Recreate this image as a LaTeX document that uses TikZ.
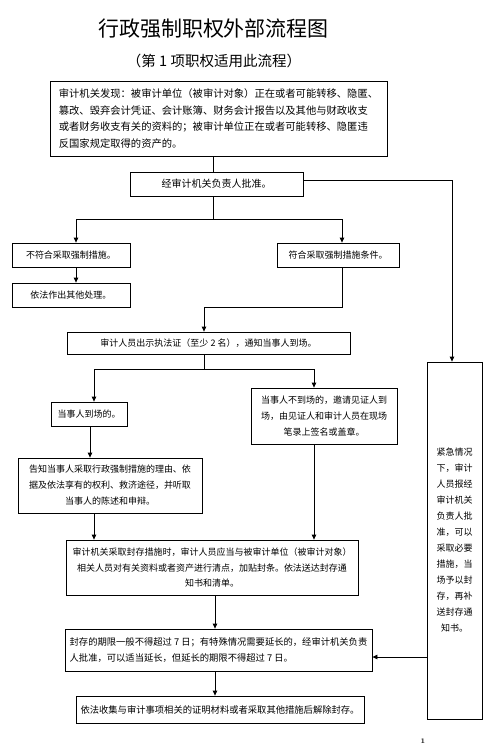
\documentclass[tikz,border=0pt]{standalone}
\usepackage{fontspec}
\newfontfamily\cjk{Noto Sans CJK SC}
\usetikzlibrary{arrows.meta,calc}
\begin{document}
\begin{tikzpicture}[x=1pt,y=-1pt,
  box/.style={draw, line width=0.8pt, fill=white, inner sep=0pt, align=center, font=\cjk\fontsize{9}{16}\selectfont},
  ln/.style={line width=0.8pt},
  arr/.style={line width=0.8pt, -{Triangle[length=5pt,width=4.5pt]}}]
\useasboundingbox[fill=white] (0,0) rectangle (495,753);

\node[font=\cjk\fontsize{21}{25}\selectfont, inner sep=0pt] (title) at (213.5,29) {行政强制职权外部流程图};
\node[font=\cjk\fontsize{14.5}{18}\selectfont, inner sep=0pt] (sub) at (214,61) {（第 1 项职权适用此流程）};

\node[box, minimum width=337pt, minimum height=75pt, align=left, font=\cjk\fontsize{10.3}{16.5}\selectfont] (b1) at (218.5,118.5)
 {审计机关发现：被审计单位（被审计对象）正在或者可能转移、隐匿、\\篡改、毁弃会计凭证、会计账簿、财务会计报告以及其他与财政收支\\或者财务收支有关的资料的；被审计单位正在或者可能转移、隐匿违\\反国家规定取得的资产的。};

\node[box, minimum width=173pt, minimum height=24pt, font=\cjk\fontsize{10}{16}\selectfont] (b2) at (216.5,184) {经审计机关负责人批准。};
\node[box, minimum width=118pt, minimum height=24pt] (b3) at (71,255) {不符合采取强制措施。};
\node[box, minimum width=118pt, minimum height=24pt] (b5) at (71,295) {依法作出其他处理。};
\node[box, minimum width=122pt, minimum height=24pt] (b4) at (338,255) {符合采取强制措施条件。};
\node[box, minimum width=283pt, minimum height=22pt] (b6) at (208.5,343) {审计人员出示执法证（至少 2 名），通知当事人到场。};
\node[box, minimum width=76pt, minimum height=24pt] (b7) at (89,414) {当事人到场的。};
\node[box, minimum width=146pt, minimum height=56pt] (b8) at (324,416) {当事人不到场的，邀请见证人到\\场，由见证人和审计人员在现场\\笔录上签名或盖章。};
\node[box, minimum width=184pt, minimum height=55pt] (b9) at (110,485.5) {告知当事人采取行政强制措施的理由、依\\据及依法享有的权利、救济途径，并听取\\当事人的陈述和申辩。};
\node[box, minimum width=292pt, minimum height=55pt, font=\cjk\fontsize{9}{15.5}\selectfont] (b10) at (212,567.5) {审计机关采取封存措施时，审计人员应当与被审计单位（被审计对象）\\相关人员对有关资料或者资产进行清点，加贴封条。依法送达封存通\\知书和清单。};
\node[box, minimum width=307pt, minimum height=42pt, align=left, font=\cjk\fontsize{9.3}{16}\selectfont] (b11) at (218.5,650) {封存的期限一般不得超过 7 日；有特殊情况需要延长的，经审计机关负责\\人批准，可以适当延长，但延长的期限不得超过 7 日。};
\node[box, minimum width=288pt, minimum height=27pt, font=\cjk\fontsize{9.3}{16}\selectfont] (b12) at (220,709.5) {依法收集与审计事项相关的证明材料或者采取其他措施后解除封存。};
\node[box, minimum width=55pt, minimum height=357pt] (em) at (454.5,540.5) {紧急情况\\下，审计\\人员报经\\审计机关\\负责人批\\准，可以\\采取必要\\措施，当\\场予以封\\存，再补\\送封存通\\知书。};

\node[font=\bfseries\fontsize{7}{8}\selectfont, inner sep=0pt] (pg) at (423,741) {1};

% connectors
\draw[ln] ([xshift=-5.5pt]b1.south) -- ([xshift=-3.5pt]b2.north);
\draw[arr] ([yshift=4pt]b2.east) -| ([xshift=-2.5pt]em.north);
\draw[ln] ([xshift=-3.5pt]b2.south) -- ++(0,23) coordinate (j1);
\draw[arr] (j1) -| ([xshift=5pt]b3.north);
\draw[arr] (j1) -| ([xshift=4pt]b4.north);
\draw[arr] ([xshift=5pt]b3.south) -- ([xshift=5pt]b5.north);
\draw[arr] ([xshift=4pt]b4.south) -- ++(0,40) -| ([xshift=-4.5pt]b6.north);
\draw[ln] ([xshift=-4.5pt]b6.south) -- ++(0,15) coordinate (j3);
\draw[arr] (j3) -| ([xshift=5pt]b7.north);
\draw[arr] (j3) -| ([xshift=-10pt]b8.north);
\draw[arr] ([xshift=1pt]b7.south) -- ([xshift=1pt]b7.south |- b9.north);
\draw[arr] ([xshift=-16pt]b9.south) -- ([xshift=-16pt]b9.south |- b10.north);
\draw[arr] ([xshift=-10pt]b8.south) -- ([xshift=-10pt]b8.south |- b10.north);
\draw[arr] ([xshift=3pt]b10.south) -- ([xshift=3pt]b10.south |- b11.north);
\draw[arr] ([xshift=-3.5pt]b11.south) -- ([xshift=-3.5pt]b11.south |- b12.north);
\draw[arr] ([yshift=-7pt]b11.east -| em.west) -- ([yshift=-7pt]b11.east);
\end{tikzpicture}
\end{document}
